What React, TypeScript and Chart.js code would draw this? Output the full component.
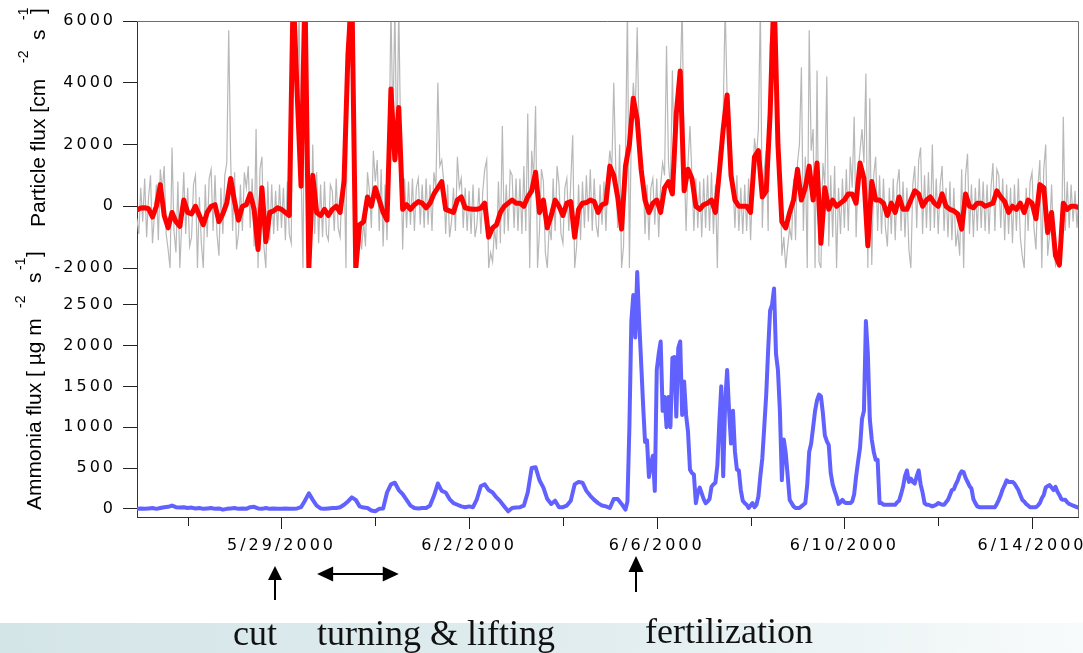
import { useEffect, useRef } from 'react';
import { Chart, registerables } from 'chart.js';

Chart.register(...registerables);

// ---------------- data ----------------
// time axis: days relative to 5/29/2000 00:00; series start 5/25/2000 22:00
const START_DAY = -3.0833;
const RAW_STEP_HOURS = 1;
const SMOOTH_STEP_HOURS = 2;
const AMMONIA_LATE_START_HOUR = 250; // hourly ammonia values from 6/5/2000 08:00

// particle flux, raw values (grey), cm-2 s-1
const particleRaw: number[] = [
  -400, -900, 600, -500, 900, -1000, 300, 1000, -1200, -300, 700, -1100, 1200, 500, 1300, -900, -1400, -2000, 1900, -800, -1500, 800, -2000, -500,
  1100, -900, 600, -1300, -1000, 700, 1000, -2000, 300, -1200, -2000, 700, -1000, 900, 1200, -800, 1000, -900, -1600, 600, -900, 1000, 1400, 5700,
  1500, -800, 1100, -1400, -900, 700, -800, 1100, 600, 1300, -700, 900, -1300, 2500, -2000, 1200, 1600, -1300, -2000, 800, -1100, 700, -900, 500,
  -800, 700, -700, 600, -1100, 800, -900, -1200, 6500, 6500, 2500, 6500, 1200, -2000, 6500, 6500, -2000, -1500, 2000, -900, 1100, -1200, 700, -1000,
  800, -900, -1100, 700, 500, -800, 900, -700, -1000, 700, 1500, -2000, 6500, 4500, 6500, 6500, -1800, -2000, -700, -1400, -500, -1300, 1100, 500,
  -700, 1800, 800, 1500, -800, 1200, -1300, 700, -1100, 1500, 6500, 2500, 6500, 1500, 6500, 2000, -1400, 900, -700, 800, -600, 900, -800, 600,
  900, -600, 700, -700, 900, -600, 700, -800, 1100, 600, 4000, 1300, 1500, 800, -900, 700, -1000, -500, 600, -800, 1600, 600, 900, -700,
  600, -800, 500, -900, 700, -1000, -600, 600, -900, 500, 1200, 1500, -2000, -1500, -1800, -700, -1400, 800, -1200, 2600, -900, 700, -800, 1150,
  1000, -700, 900, -800, 900, -900, 1300, -800, 3000, -2000, 1800, 900, 3250, -2000, -800, 1200, 800, -1500, -2000, -600, -1100, 900, -800, 1300,
  700, -900, -1200, 600, 900, -800, 800, 2300, -2000, -1300, 700, -1100, 800, -700, 1000, -500, 1200, -800, 900, -600, -1000, 700, -600, 800,
  -800, 1000, 1800, 1200, 4000, 1300, -700, 2000, -2000, -1300, 1600, 6500, -2000, 2500, 4000, 3000, 5800, 2200, 1800, 1200, -900, 700, -1100, 600,
  900, -600, 900, -1000, 700, 1400, 1000, 5200, 1400, 600, 4400, 1200, 2500, 3500, 4000, 6500, 1600, -800, 1400, 2600, 1000, -800, 900, -700,
  800, -1000, 900, -700, 1000, -800, 1100, -900, 700, -2000, 1800, 1300, 3000, 6500, 3500, 2800, 1800, 800, -700, 1000, -800, 600, -900, 700,
  -800, 900, -1100, 600, 2200, 1600, 2500, 6500, -700, 1200, 1800, -800, 5300, 3500, 6500, 6500, 3000, 1400, -1600, -1000, -2000, -1300, -700, -1100,
  900, -1100, 1400, 2000, 4500, -800, 1600, -2000, 5700, 1800, 2500, -2000, 4400, -1800, -2000, 1400, 700, 4200, -1300, 1000, -1000, 1300, -2000, 600,
  -900, 900, -700, 1200, -800, 1600, 600, 2900, -1000, 1100, 1800, 2500, 1400, 4300, -2000, 3500, -1900, 1000, 1600, -800, 1000, -900, 900, -700,
  -1300, 600, -900, 900, -1100, 700, 1200, -800, 800, -1000, 600, -1400, -2000, 700, 1300, -700, 1500, 1900, -900, 1000, -700, 1100, -800, 2000,
  -700, 900, -900, 700, 1300, -800, 600, -1000, 800, -1100, 600, -1300, -800, -1600, 1200, -2000, 1000, 1700, -900, 700, -1000, 600, -800, 900,
  -700, 800, -800, 700, -900, 600, 1400, -800, 1200, 1000, -700, 900, -1100, 700, -900, 600, -1200, 700, -800, 900, -1000, -1600, -2000, 600,
  -800, 800, 1100, -700, -1400, 600, 1500, -2000, 1200, 2000, -1600, -900, 700, -1100, -1900, -1500, -2000, -1800, 2900, -800, 800, -700, 700, -500,
  500, -700, 400,
];

// particle flux, smoothed (red), cm-2 s-1
const particleSmooth: number[] = [
  -120, -60, -50, -80, -350, 0, 700, -300, -700, -200, -500, -650,
  200, -200, -250, 0, -300, -600, -200, 0, 50, -500, -250, 100,
  900, 150, -450, 0, 50, 400, -100, -1400, 600, -1150, -200, -150,
  -50, -100, -200, -300, 7000, 3700, 650, 7000, -2000, 1000, -200, -300,
  -100, -300, -100, 0, -200, 800, 4900, 7000, -2000, -600, -500, 300,
  0, 600, 200, -200, -450, 3800, 1500, 3200, -100, 50, -100, 50,
  150, 100, -50, 100, 400, 600, 800, -100, -150, -200, 200, 300,
  -50, -80, -100, -100, -60, 100, -1000, -700, -600, -200, 0, 100,
  200, 100, 100, 0, 300, 500, 1100, -200, 200, -700, -300, 200,
  0, -300, 100, 150, -1000, -100, 100, 120, 200, 150, -200, 50,
  100, 1300, 1000, 300, -740, 1300, 2000, 3500, 2800, 1200, 200, -200,
  100, 200, -200, 600, 800, 400, 3000, 4380, 500, 1200, 900, 0,
  -100, 50, 100, 200, -200, 1100, 2500, 3600, 1000, 200, 0, 0,
  0, -200, 1600, 1800, 300, 500, 3000, 7000, 2000, -500, -700, -200,
  200, 1200, 200, 600, 1300, 200, 1400, -1200, 600, -100, 200, 0,
  100, 200, 400, 400, 100, 1400, 900, -1280, 800, 200, 200, 100,
  -300, 100, -200, 300, -100, -100, 200, 500, 400, 0, 200, 300,
  100, 0, 400, 0, -100, -150, -250, -740, 400, 0, -50, 100,
  100, 0, 50, 100, 500, 300, 150, -200, 0, -100, 100, -200,
  200, 100, -400, 700, 600, -850, -200, -1600, -1900, 100, -100, 0,
  0, -50,
];

// ammonia flux (blue), ug m-2 s-1 — 2-hourly until 6/5 04:00
const ammoniaEarly: number[] = [
  0, 5, 0, 5, 10, 0, 10, 20, 25, 40, 20, 15,
  20, 10, 15, 5, 10, 0, 5, 10, 0, 5, -10, 0,
  5, 10, 0, 5, 0, 20, 25, 5, 0, 10, 0, 5,
  0, 0, 5, 0, 0, 5, 20, 100, 190, 110, 40, 5,
  0, 5, 10, 10, 20, 50, 90, 140, 110, 30, 15, 10,
  -20, -30, 0, 5, 200, 300, 320, 230, 180, 110, 40, 10,
  5, 10, 10, 40, 160, 310, 220, 200, 120, 70, 50, 30,
  20, 30, 20, 120, 280, 300, 230, 200, 140, 90, 30, -30,
  10, 15, 20, 40, 200, 500, 510, 350, 260, 120, 60, 100,
  20, 20, 40, 100, 300, 330, 320, 220, 160, 110, 70, 40,
  30, 10, 120, 120, 60,
];

// ammonia flux (blue), ug m-2 s-1 — hourly from 6/5 08:00
const ammoniaLate: number[] = [
  -10, 90, 1000, 2300, 2620, 2100, 2900, 2300, 1800, 1280,
  820, 840, 390, 550, 650, 220, 1700, 1900, 2050, 1200,
  1370, 1000, 1370, 1000, 1850, 1860, 1130, 1970, 2050, 1150,
  1560, 1150, 940, 480, 440, 420, 70, 200, 260, 190,
  120, 70, 90, 120, 270, 300, 320, 530, 1050, 1500,
  400, 1300, 1700, 1200, 800, 1200, 700, 480, 470, 230,
  100, 70, 50, 10, 40, 70, 20, 50, 150, 400,
  620, 1000, 1400, 1950, 2430, 2500, 2700, 1900, 1700, 1200,
  350, 850, 680, 400, 110, 70, 30, 10, 10, 10,
  30, 50, 70, 300, 700, 800, 1000, 1200, 1330, 1400,
  1380, 1170, 900, 830, 780, 440, 300, 220, 150, 60,
  80, 110, 80, 70, 70, 70, 90, 180, 400, 580,
  750, 1100, 1200, 2300, 1900, 1100, 850, 700, 600, 600,
  70, 70, 50, 50, 50, 50, 50, 50, 50, 80,
  100, 180, 270, 400, 470, 330, 370, 330, 310, 400,
  470, 300, 200, 70, 50, 50, 40, 30, 40, 50,
  70, 60, 50, 50, 80, 110, 170, 230, 240, 300,
  350, 420, 460, 450, 380, 330, 280, 250, 120, 70,
  30, 20, 20, 20, 20, 20, 20, 20, 20, 20,
  60, 110, 170, 240, 290, 350, 330, 330, 330, 310,
  270, 230, 170, 110, 90, 60, 40, 20, 20, 20,
  20, 40, 70, 130, 170, 260, 280, 290, 260, 230,
  270, 210, 170, 120, 110, 110, 80, 60, 50, 40,
  30, 20, 10,
];

const particleTicks = [-2000, 0, 2000, 4000, 6000];
const ammoniaTicks = [0, 500, 1000, 1500, 2000, 2500];
const dayTicks = [-2, 0, 2, 4, 6, 8, 10, 12, 14, 16];
const labelDays = [0, 4, 8, 12, 16];
const labelTexts = ['5/29/2000', '6/2/2000', '6/6/2000', '6/10/2000', '6/14/2000'];
const eventNames = ['cut', 'turning & lifting', 'fertilization'];
// cut, turning start, turning end, fertilization (days from 5/29/2000)
const eventDays = [-0.13, 0.76, 2.5, 7.55];

// ---------------- drawing ----------------
const W = 1083;
const H = 653;
const SPACING = '3px';
const SANS = '"Liberation Sans", Arial, sans-serif';
const TICK_FONT = '"DejaVu Sans", sans-serif';

function toPoints(values: number[], stepHours: number, offsetHours = 0) {
  return values.map((v, i) => ({ x: START_DAY + (offsetHours + i * stepHours) / 24, y: v }));
}

type Piece = { text: string; u: number; v: number; size: number };

function drawRotated(ctx: CanvasRenderingContext2D, baseX: number, startY: number, pieces: Piece[]) {
  ctx.save();
  ctx.translate(baseX, startY);
  ctx.rotate(-Math.PI / 2);
  ctx.fillStyle = '#000';
  ctx.textAlign = 'left';
  ctx.textBaseline = 'alphabetic';
  for (const p of pieces) {
    ctx.font = `${p.size}px ${SANS}`;
    ctx.fillText(p.text, p.u, p.v);
  }
  ctx.restore();
}

function upArrow(ctx: CanvasRenderingContext2D, x: number, tipY: number, baseY: number, head: number, half: number) {
  ctx.beginPath();
  ctx.moveTo(x, baseY);
  ctx.lineTo(x, tipY + head - 1);
  ctx.stroke();
  ctx.beginPath();
  ctx.moveTo(x, tipY);
  ctx.lineTo(x - half, tipY + head);
  ctx.lineTo(x + half, tipY + head);
  ctx.closePath();
  ctx.fill();
}

function doubleArrow(ctx: CanvasRenderingContext2D, x1: number, x2: number, y: number, head: number, half: number) {
  ctx.beginPath();
  ctx.moveTo(x1 + head - 1, y);
  ctx.lineTo(x2 - head + 1, y);
  ctx.stroke();
  ctx.beginPath();
  ctx.moveTo(x1, y);
  ctx.lineTo(x1 + head, y - half);
  ctx.lineTo(x1 + head, y + half);
  ctx.closePath();
  ctx.fill();
  ctx.beginPath();
  ctx.moveTo(x2, y);
  ctx.lineTo(x2 - head, y - half);
  ctx.lineTo(x2 - head, y + half);
  ctx.closePath();
  ctx.fill();
}

const decor = {
  id: 'decor',
  beforeUpdate(chart: any) {
    chart.ctx.letterSpacing = SPACING;
  },
  beforeDraw(chart: any) {
    const ctx = chart.ctx as CanvasRenderingContext2D;
    ctx.save();
    ctx.fillStyle = '#ffffff';
    ctx.fillRect(0, 0, W, H);
    const g = ctx.createLinearGradient(0, 0, W, 0);
    g.addColorStop(0, '#d4e5e8');
    g.addColorStop(0.55, '#e1edef');
    g.addColorStop(1, '#f8fbfb');
    ctx.fillStyle = g;
    ctx.fillRect(0, 623, W, H - 623);
    ctx.restore();
    (ctx as any).letterSpacing = SPACING;
  },
  afterDraw(chart: any) {
    const ctx = chart.ctx as CanvasRenderingContext2D;
    const { left, right, top, bottom } = chart.chartArea;
    const xs = chart.scales.x;
    ctx.save();
    (ctx as any).letterSpacing = '0px';

    // frame top/right
    ctx.strokeStyle = '#6e6e6e';
    ctx.lineWidth = 1;
    ctx.beginPath();
    ctx.moveTo(left, top + 0.5);
    ctx.lineTo(right + 0.5, top + 0.5);
    ctx.lineTo(right + 0.5, bottom);
    ctx.stroke();

    // x tick marks
    ctx.strokeStyle = '#222';
    for (const d of dayTicks) {
      const px = Math.round(xs.getPixelForValue(d)) + 0.5;
      const len = labelDays.includes(d) ? 12 : 9;
      ctx.beginPath();
      ctx.moveTo(px, bottom);
      ctx.lineTo(px, bottom + len);
      ctx.stroke();
    }

    // axis titles
    drawRotated(ctx, 45, 227, [
      { text: 'Particle flux [cm', u: 0, v: 0, size: 21 },
      { text: '-2', u: 164, v: -17, size: 14 },
      { text: 's', u: 187, v: 0, size: 21 },
      { text: '-1', u: 207, v: -17, size: 14 },
      { text: ']', u: 213, v: 0, size: 21 },
    ]);
    drawRotated(ctx, 41, 510, [
      { text: 'Ammonia flux [ \u00b5g m', u: 0, v: 0, size: 21 },
      { text: '-2', u: 202, v: -16, size: 14 },
      { text: 's', u: 227, v: 0, size: 21 },
      { text: '-1', u: 240, v: -16, size: 14 },
      { text: ']', u: 253, v: 0, size: 21 },
    ]);

    // event arrows
    ctx.fillStyle = '#000';
    ctx.strokeStyle = '#000';
    ctx.lineWidth = 2;
    upArrow(ctx, Math.round(xs.getPixelForValue(eventDays[0])), 566, 600, 14, 7);
    doubleArrow(ctx, xs.getPixelForValue(eventDays[1]), xs.getPixelForValue(eventDays[2]), 574, 16, 7.5);
    upArrow(ctx, Math.round(xs.getPixelForValue(eventDays[3])), 556, 592, 16, 7.5);

    // event labels
    ctx.font = '36px "Liberation Serif", "Times New Roman", serif';
    ctx.fillStyle = '#111';
    ctx.textAlign = 'left';
    ctx.textBaseline = 'alphabetic';
    ctx.fillText(eventNames[0], 233, 645);
    ctx.fillText(eventNames[1], 317, 645);
    ctx.fillText(eventNames[2], 645, 643);

    ctx.restore();
  },
};

function buildConfig(): any {
  const tickFont = { family: TICK_FONT, size: 16 };
  const ammoniaPoints = [
    ...toPoints(ammoniaEarly, SMOOTH_STEP_HOURS),
    ...toPoints(ammoniaLate, RAW_STEP_HOURS, AMMONIA_LATE_START_HOUR),
  ];
  return {
    type: 'line',
    data: {
      datasets: [
        {
          label: 'Particle flux (raw)',
          data: toPoints(particleRaw, RAW_STEP_HOURS),
          yAxisID: 'yP',
          borderColor: '#b8b8b8',
          borderWidth: 1.2,
          pointRadius: 0,
          tension: 0,
          order: 3,
        },
        {
          label: 'Particle flux (smoothed)',
          data: toPoints(particleSmooth, SMOOTH_STEP_HOURS),
          yAxisID: 'yP',
          borderColor: '#ff0000',
          borderWidth: 5,
          pointRadius: 0,
          tension: 0,
          borderJoinStyle: 'round',
          borderCapStyle: 'round',
          order: 2,
        },
        {
          label: 'Ammonia flux',
          data: ammoniaPoints,
          yAxisID: 'yN',
          borderColor: '#6161ff',
          borderWidth: 4,
          pointRadius: 0,
          tension: 0,
          borderJoinStyle: 'round',
          borderCapStyle: 'round',
          order: 1,
        },
      ],
    },
    options: {
      responsive: false,
      animation: false,
      events: [],
      layout: { padding: { left: 0, right: 5, top: 21, bottom: 0 } },
      plugins: { legend: { display: false }, tooltip: { enabled: false }, title: { display: false } },
      scales: {
        x: {
          type: 'linear',
          position: 'bottom',
          min: -3.08,
          max: 16.98,
          afterBuildTicks: (s: any) => {
            s.ticks = dayTicks.map((v) => ({ value: v }));
          },
          afterFit: (s: any) => {
            s.height = 136;
            s.paddingLeft = 0;
            s.paddingRight = 0;
          },
          grid: { drawOnChartArea: false, drawTicks: false },
          border: { display: true, color: '#333', width: 1 },
          ticks: {
            autoSkip: false,
            maxRotation: 0,
            minRotation: 0,
            padding: 19,
            color: '#000',
            font: tickFont,
            callback: (v: number) => {
              const k = labelDays.indexOf(v);
              return k >= 0 ? labelTexts[k] : '';
            },
          },
        },
        yN: {
          type: 'linear',
          position: 'left',
          stack: 'panels',
          stackWeight: 249,
          min: -100,
          max: 2950,
          afterBuildTicks: (s: any) => {
            s.ticks = ammoniaTicks.map((v) => ({ value: v }));
          },
          afterFit: (s: any) => {
            s.width = 137;
            s.paddingTop = 0;
            s.paddingBottom = 0;
          },
          grid: { drawOnChartArea: false, drawTicks: true, tickLength: 14, tickColor: '#222' },
          border: { display: true, color: '#333', width: 1 },
          ticks: { padding: 7, color: '#000', font: tickFont, callback: (v: number) => String(v) },
        },
        yP: {
          type: 'linear',
          position: 'left',
          stack: 'panels',
          stackWeight: 247,
          min: -2000,
          max: 6000,
          afterBuildTicks: (s: any) => {
            s.ticks = particleTicks.map((v) => ({ value: v }));
          },
          afterFit: (s: any) => {
            s.width = 137;
            s.paddingTop = 0;
            s.paddingBottom = 0;
          },
          grid: { drawOnChartArea: false, drawTicks: true, tickLength: 14, tickColor: '#222' },
          border: { display: true, color: '#333', width: 1 },
          ticks: { padding: 7, color: '#000', font: tickFont, callback: (v: number) => String(v) },
        },
      },
    },
    plugins: [decor],
  };
}

export default function App() {
  const ref = useRef<HTMLCanvasElement>(null);
  useEffect(() => {
    const chart = new Chart(ref.current as HTMLCanvasElement, buildConfig());
    return () => chart.destroy();
  }, []);
  return (
    <div style={{ position: 'fixed', left: 0, top: 0, width: W, height: H, background: '#fff' }}>
      <canvas ref={ref} width={W} height={H} style={{ display: 'block', width: W, height: H }} />
    </div>
  );
}
